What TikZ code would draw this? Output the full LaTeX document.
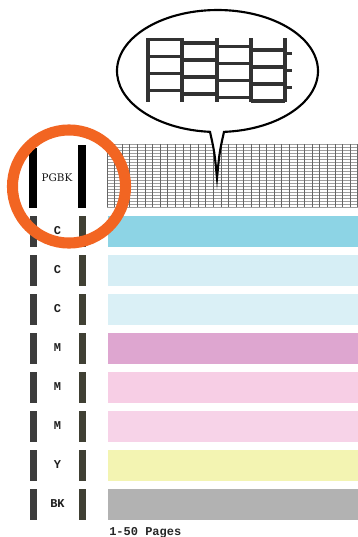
\documentclass[tikz,border=0pt]{standalone}
\usepackage{fontspec}
\setmonofont{Liberation Mono}
\newfontfamily\labserif{DejaVu Serif}
\definecolor{cyanA}{RGB}{141,212,229}
\definecolor{cyanB}{RGB}{214,238,245}
\definecolor{cyanC}{RGB}{218,240,246}
\definecolor{magA}{RGB}{222,166,208}
\definecolor{magB}{RGB}{247,206,229}
\definecolor{magC}{RGB}{247,211,232}
\definecolor{yelA}{RGB}{243,244,178}
\definecolor{greyA}{RGB}{178,178,178}
\definecolor{markL}{RGB}{60,60,60}
\definecolor{markR}{RGB}{64,64,52}
\definecolor{ringorange}{RGB}{242,101,34}
\definecolor{icongrey}{RGB}{50,50,50}
\begin{document}
\begin{tikzpicture}[x=0.75pt,y=-0.75pt,
  gridv/.style={draw=black!60,line width=0.6pt},
  gridh/.style={draw=black!38,line width=0.45pt},
  lab/.style={font=\ttfamily\bfseries\fontsize{9}{10}\selectfont,text=black!88,inner sep=0pt},
  pglab/.style={font=\labserif\fontsize{7.8}{8}\selectfont,text=black!92,inner sep=0pt},
  pagetxt/.style={font=\ttfamily\bfseries\fontsize{9}{10}\selectfont,text=black!85,inner sep=0pt},
  ring/.style={draw=ringorange,line width=8.3pt},
  bubble/.style={draw=black,line width=1.6pt,fill=white,line join=miter,miter limit=20},
  icon/.style={draw=icongrey,line width=2.6pt}]
\useasboundingbox (0,0) rectangle (358,537);
\fill[white] (0,0) rectangle (358,537);

% nozzle check grid
\foreach \i in {0,...,21} \draw[gridh] (107,{144+3*\i}) -- (358,{144+3*\i});
\foreach \i in {0,...,33} \draw[gridv] ({107+7.6*\i},144) -- ({107+7.6*\i},207);

% PGBK markers
\fill[black] (29,148) rectangle (37,208);
\fill[black] (78,145) rectangle (86,208);
\node[pglab] (pgbk) at (57,177.5) {PGBK};

% colour bars
\foreach \i/\lab/\col in {0/C/cyanA,1/C/cyanB,2/C/cyanC,3/M/magA,4/M/magB,5/M/magC,6/Y/yelA,7/BK/greyA}{
  \pgfmathsetmacro\yt{215.5+39*\i}
  \fill[\col] (108,\yt) rectangle (358,{\yt+31});
  \fill[markL] (30,\yt) rectangle (37,{\yt+31});
  \fill[markR] (79,\yt) rectangle (86,{\yt+31});
  \node[lab] (lab\i) at (57.5,{\yt+15.5}) {\lab};
}

\node[pagetxt,anchor=base west] (pages) at (109,535) {1-50 Pages};

% orange ring
\draw[ring] (69,186.5) circle[radius=42.4pt];

% speech bubble
\draw[bubble] (224,131.87) arc[start angle=86.29,end angle=-265.72,x radius=100.5,y radius=61]
  .. controls (214.5,152) .. (217,178) .. controls (219.5,152) .. (224,131.87) -- cycle;

% enlarged grid icon
\foreach \x in {148,182,217,251,285} \draw[icon] (\x,38) -- (\x,102);
\foreach \c/\xa/\xb in {0/148/182,1/182/217,2/217/251,3/251/285}
  \foreach \k in {0,...,3} \draw[icon] (\xa,{39.5+3.5*\c+17*\k}) -- (\xb,{39.5+3.5*\c+17*\k});
\foreach \k in {0,1,2} \draw[icon] (285,{53.5+17*\k}) -- (292,{53.5+17*\k});
\end{tikzpicture}
\end{document}
